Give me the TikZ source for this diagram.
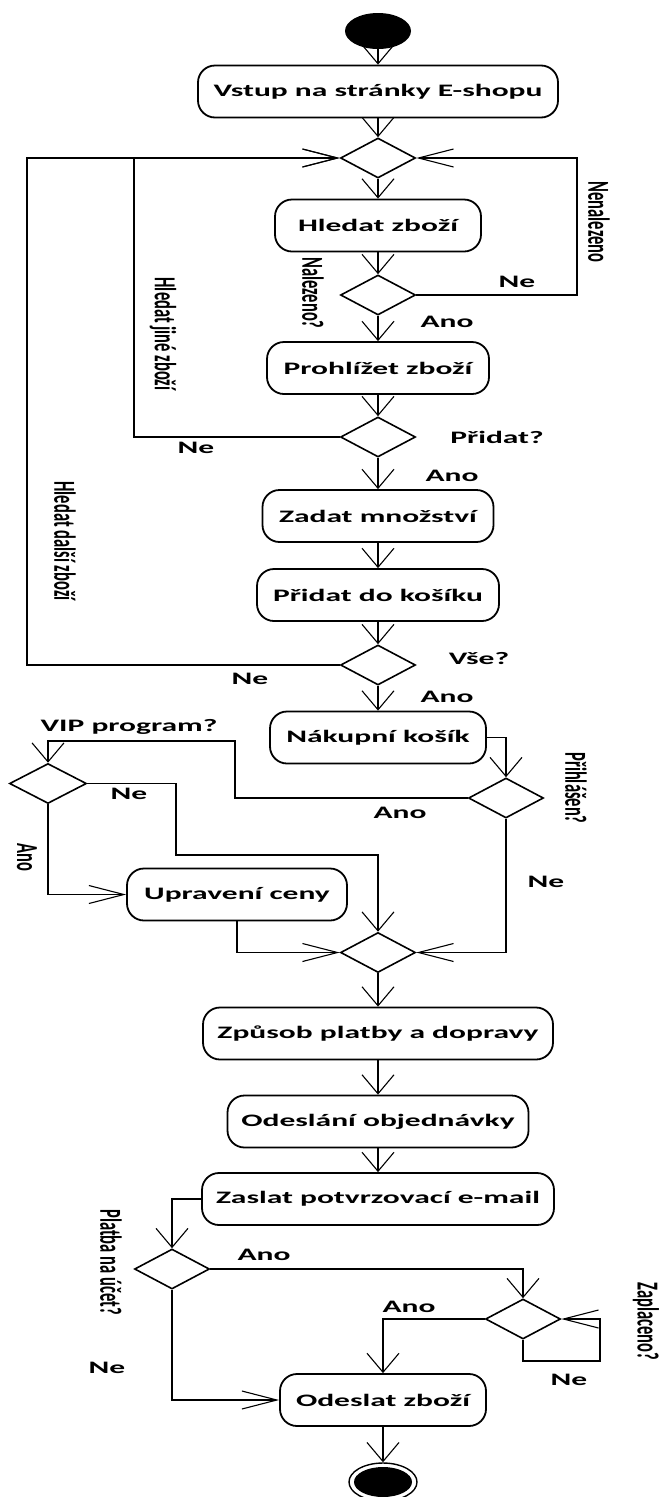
\documentclass[tikz,border=0pt]{standalone}
\usepackage{fontspec}
\setmainfont{Carlito}
\usepackage{graphicx}
\usetikzlibrary{arrows.meta,shapes.geometric}
\newcommand\hs[1]{\scalebox{1.8}[1]{\fontsize{17.5pt}{20pt}\selectfont #1}}
\newcommand\vs[1]{\scalebox{1}[1.85]{#1}}
\begin{document}
\begin{tikzpicture}[x=1pt,y=-1pt,
 every node/.style={font=\fontsize{16.5pt}{19pt}\selectfont\bfseries},
 act/.style={draw, line width=1.8pt, rounded corners=17pt, minimum height=52pt, inner sep=0pt},
 dec/.style={draw, diamond, line width=1.6pt, minimum width=75pt, minimum height=40pt, inner sep=0pt},
 lbl/.style={inner sep=0pt},
 rlbl/.style={inner sep=0pt, rotate=-90},
 conn/.style={line width=1.1pt},
 varr/.style={conn, -{Straight Barb[length=19pt,width=32pt]}},
 harr/.style={conn, -{Straight Barb[length=35pt,width=18pt]}},
]
\useasboundingbox (0,0) rectangle (662,1497);

% nodes
\node[ellipse, fill=black, minimum width=66pt, minimum height=36pt, inner sep=0pt] (start) at (378,31) {};
\node[act, minimum width=360pt] (b1) at (378,91.5) {\hs{Vstup na stránky E-shopu}};
\node[dec] (d1) at (378,158) {};
\node[act, minimum width=206pt] (b2) at (378,225.5) {\hs{Hledat zboží}};
\node[dec] (d2) at (378,295) {};
\node[act, minimum width=222pt] (b3) at (378,368) {\hs{Prohlížet zboží}};
\node[dec] (d3) at (378,437) {};
\node[act, minimum width=231pt] (b4) at (378,516) {\hs{Zadat množství}};
\node[act, minimum width=242pt] (b5) at (378,595) {\hs{Přidat do košíku}};
\node[dec] (d4) at (378,665) {};
\node[act, minimum width=216pt] (b6) at (378,737.5) {\hs{Nákupní košík}};
\node[dec] (d5) at (506,798) {};
\node[dec, minimum width=77pt] (d6) at (48,783.5) {};
\node[act, minimum width=220pt] (b7) at (237,894.5) {\hs{Upravení ceny}};
\node[dec] (d7) at (378,952.5) {};
\node[act, minimum width=350pt] (b8) at (378,1033.5) {\hs{Způsob platby a dopravy}};
\node[act, minimum width=301pt] (b9) at (378,1121.5) {\hs{Odeslání objednávky}};
\node[act, minimum width=352pt] (b10) at (378,1199) {\hs{Zaslat potvrzovací e-mail}};
\node[dec] (d8) at (172,1269) {};
\node[dec] (d9) at (523,1319) {};
\node[act, minimum width=206pt] (b11) at (383,1400) {\hs{Odeslat zboží}};
\node[ellipse, draw, line width=1.4pt, minimum width=68pt, minimum height=38pt, inner sep=0pt] (end) at (383,1482) {};
\node[ellipse, fill=black, minimum width=58pt, minimum height=30pt, inner sep=0pt] (endin) at (end.center) {};

% bend points
\coordinate (cNen) at (577,158);
\coordinate (cJ) at (134,158);
\coordinate (cD) at (27,158);
\coordinate (cV) at (235,741);
\coordinate (cN) at (176,855);
\coordinate (cL) at (600,1361);

% connectors
\draw[varr] (start) -- (b1);
\draw[varr] (b1) -- (d1);
\draw[varr] (d1) -- (b2);
\draw[varr] (b2) -- (d2);
\draw[harr] (d2.east) -| (cNen) -- (d1.east);
\draw[varr] (d2) -- (b3);
\draw[varr] (b3) -- (d3);
\draw[harr] (d3.west) -| (cJ) -- (d1.west);
\draw[varr] (d3) -- (b4);
\draw[varr] (b4) -- (b5);
\draw[varr] (b5) -- (d4);
\draw[harr] (d4.west) -| (cD) -- (d1.west);
\draw[varr] (d4) -- (b6);
\draw[varr] (b6.east) -| (d5.north);
\draw[varr] (d5.west) -| (cV) -| (d6.north);
\draw[varr] (d6.east) -| (cN) -| (d7.north);
\draw[harr] (d6.south) |- (b7.west);
\draw[harr] (b7.south) |- (d7.west);
\draw[harr] (d5.south) |- (d7.east);
\draw[varr] (d7) -- (b8);
\draw[varr] (b8) -- (b9);
\draw[varr] (b9) -- (b10);
\draw[varr] (b10.west) -| (d8.north);
\draw[varr] (d8.east) -| (d9.north);
\draw[varr] (d9.west) -| (b11.north);
\draw[harr] (d9.south) |- (cL) |- (d9.east);
\draw[harr] (d8.south) |- (b11.west);
\draw[varr] (b11) -- (end);

% labels
\node[lbl] (lNe1) at (517,282) {\hs{Ne}};
\node[rlbl] (lNen) at (599,222) {\vs{Nenalezeno}};
\node[rlbl] (lNal) at (313,293) {\vs{Nalezeno?}};
\node[lbl] (lAno1) at (447,322) {\hs{Ano}};
\node[rlbl] (lHj) at (163,334) {\vs{Hledat jiné zboží}};
\node[lbl] (lNe2) at (196,448) {\hs{Ne}};
\node[lbl] (lPr) at (497,437) {\hs{Přidat?}};
\node[lbl] (lAno2) at (452,476) {\hs{Ano}};
\node[rlbl] (lHd) at (65,541) {\vs{Hledat další zboží}};
\node[lbl] (lVse) at (479,659) {\hs{Vše?}};
\node[lbl] (lNe3) at (250,679) {\hs{Ne}};
\node[lbl] (lAno3) at (447,697) {\hs{Ano}};
\node[lbl] (lVIP) at (129,727) {\hs{VIP program?}};
\node[rlbl] (lPrih) at (576,788) {\vs{Přihlášen?}};
\node[lbl] (lNe4) at (129,794) {\hs{Ne}};
\node[lbl] (lAno4) at (400,813) {\hs{Ano}};
\node[rlbl] (lAno5) at (27,857) {\vs{Ano}};
\node[lbl] (lNe5) at (546,882) {\hs{Ne}};
\node[lbl] (lAno6) at (264,1255) {\hs{Ano}};
\node[rlbl] (lPl) at (111,1262) {\vs{Platba na účet?}};
\node[lbl] (lAno7) at (409,1307) {\hs{Ano}};
\node[rlbl] (lZap) at (646,1321) {\vs{Zaplaceno?}};
\node[lbl] (lNe6) at (107,1368) {\hs{Ne}};
\node[lbl] (lNe7) at (569,1380) {\hs{Ne}};
\end{tikzpicture}
\end{document}
